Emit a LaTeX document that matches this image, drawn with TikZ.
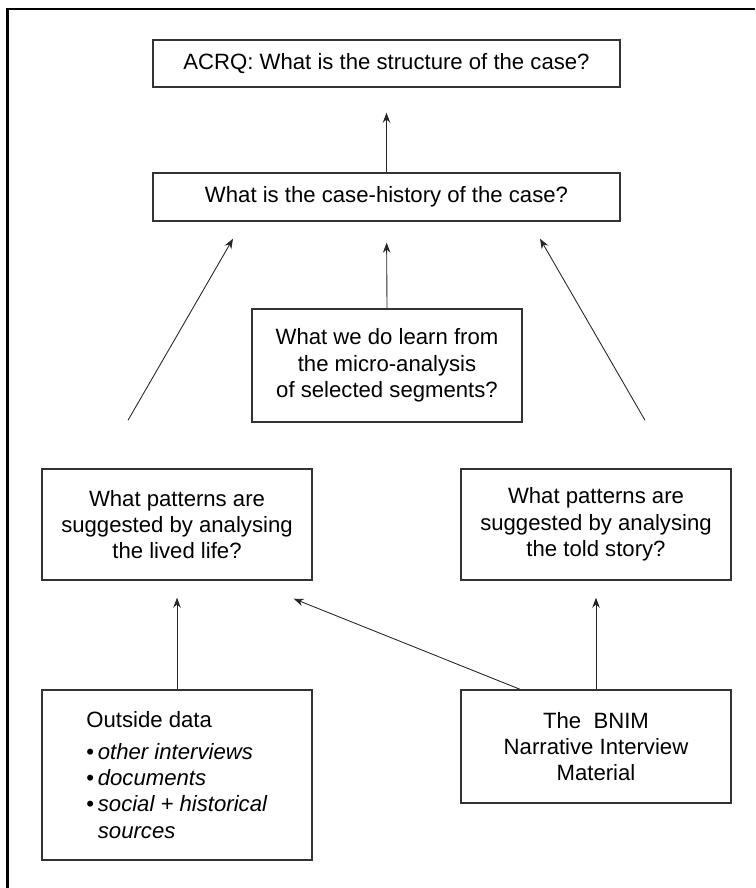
\documentclass[tikz,border=0pt]{standalone}
\usepackage{fontspec}
\setmainfont{Liberation Sans}
\usetikzlibrary{arrows.meta,calc,positioning}
\newcommand{\qfont}{\fontsize{12.6}{15}\selectfont}
\tikzset{pin/.style={-{Stealth[length=2mm,width=1.5mm]}, line width=0.5pt, draw=black!85},
  blk/.style={draw=black!80, line width=0.8pt, font=\qfont, align=center, inner sep=0pt}}

\begin{document}
\begin{tikzpicture}
  \useasboundingbox (0,0) rectangle (15.1,-17.76);
  % frame, top and left edge
  \draw[line width=1.7pt] (15.1,-0.18) -- (0.15,-0.18) -- (0.15,-17.76);
  % questions
  \node[blk, minimum width=93.4mm, minimum height=9.4mm] (acrq) at (7.73,-1.27) {ACRQ: What is the structure of the case?};
  \node[blk, minimum width=93.4mm, minimum height=9.6mm] (hist) at (7.73,-3.94) {What is the case-history of the case?};
  \node[blk, minimum width=54mm, minimum height=22.6mm] (micro) at (7.74,-7.31) {What we do learn from\\the micro-analysis\\of selected segments?};
  \node[blk, minimum width=54mm, minimum height=22.2mm] (lived) at (3.54,-10.49) {What patterns are\\suggested by analysing\\the lived life?};
  \node[blk, minimum width=54mm, minimum height=22.2mm] (told) at (11.92,-10.49) {What patterns are\\suggested by analysing\\the told story?};
  % material
  \node[blk, minimum width=54mm, minimum height=34mm, align=left] (outside) at (3.54,-15.5)
    {Outside data\\[1mm]
     \textbullet\,\textit{other interviews}\\
     \textbullet\,\textit{documents}\\
     \textbullet\,\textit{social + historical}\\
     \phantom{\textbullet\,}\textit{sources}};
  \node[blk, minimum width=54mm, minimum height=22.6mm] (bnim) at (11.92,-14.93) {The~~BNIM\\Narrative Interview\\Material};
  % arrows
  \draw[pin, shorten >=5mm] (hist.north) -- (acrq.south);
  \draw[pin, shorten >=4.2mm] (micro.north) -- (hist.south);
  \draw[pin] ([xshift=-9.8mm,yshift=9.6mm]lived.north) -- ([xshift=-30.7mm,yshift=-3.4mm]hist.south);
  \draw[pin] ([xshift=9.8mm,yshift=9.6mm]told.north) -- ([xshift=30.7mm,yshift=-3.4mm]hist.south);
  \draw[pin, shorten >=3.4mm] (outside.north) -- (lived.south);
  \draw[pin, shorten >=3.4mm] (bnim.north) -- (told.south);
  \draw[pin] ([xshift=-15.2mm]bnim.north) -- ([xshift=-3.8mm,yshift=-3.6mm]lived.south east);
\end{tikzpicture}
\end{document}
